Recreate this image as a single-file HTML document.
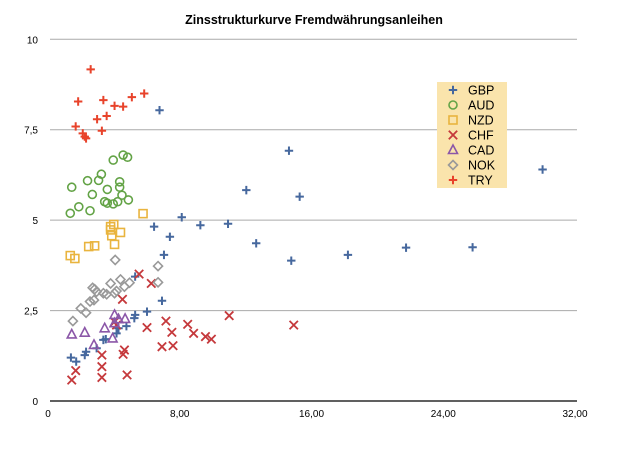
<!DOCTYPE html>
<html><head><meta charset="utf-8"><style>
body{margin:0;background:#fff;}
svg text{font-family:"Liberation Sans",sans-serif;}
</style></head><body>
<svg id="chart" width="619" height="449" xmlns="http://www.w3.org/2000/svg">
<text x="314" y="24" text-anchor="middle" font-size="12.5" font-weight="bold">Zinsstrukturkurve Fremdwährungsanleihen</text>
<g id="grid"></g><g id="marks"></g>
<g id="legend"></g>
</svg>
<script>
const seriesNames=["GBP","AUD","NZD","CHF","CAD","NOK","TRY"];
const seriesColors=["#46689e","#63a346","#e9b43e","#c5393c","#8b57a8","#999999","#e8432b"];
const seriesShapes=["plus","circle","square","x","triangle","diamond","plus"];
const xTicks=[0,8,16,24,32];
const xTickLabels=["0","8,00","16,00","24,00","32,00"];
const yTicks=[0,2.5,5,7.5,10];
const yTickLabels=["0","2,5","5","7,5","10"];
const gbpX=[1.27,1.59,2.11,2.19,2.83,3.24,3.39,4.04,4.16,4.64,5.12,5.17,5.89,5.17,6.32,6.80,6.92,7.28,8.00,9.13,10.81,11.92,12.52,14.51,14.65,15.16,18.09,21.62,25.66,29.91,6.65];
const gbpY=[1.20,1.09,1.27,1.36,1.46,1.69,1.71,1.87,2.01,2.07,2.29,2.38,2.47,3.44,4.82,2.77,4.04,4.54,5.08,4.86,4.90,5.83,4.36,6.92,3.88,5.65,4.04,4.24,4.25,6.40,8.04];
const audX=[1.32,1.23,1.75,2.43,2.28,2.57,2.95,3.12,3.48,3.32,3.48,3.84,3.84,4.11,4.23,4.23,4.37,4.44,4.71,4.76];
const audY=[5.91,5.19,5.37,5.26,6.09,5.71,6.10,6.27,5.85,5.51,5.47,5.45,6.66,5.51,6.06,5.91,5.69,6.80,6.74,5.56];
const nzdX=[1.23,1.51,2.35,2.71,3.68,3.87,3.75,3.92,4.28,5.65,3.68];
const nzdY=[4.02,3.94,4.27,4.29,4.73,4.88,4.57,4.33,4.66,5.18,4.82];
const chfX=[1.32,1.56,3.15,3.15,3.15,4.40,4.44,4.52,4.68,5.41,5.89,6.15,7.04,7.40,6.80,7.47,8.36,8.72,9.44,9.80,10.88,14.80,3.92,4.04];
const chfY=[0.58,0.84,1.27,0.95,0.65,2.81,1.29,1.41,0.72,3.51,2.03,3.25,2.21,1.90,1.50,1.53,2.12,1.87,1.78,1.71,2.36,2.10,2.19,2.10];
const cadX=[1.32,2.11,2.67,3.32,3.80,3.92,4.16,4.56,3.92];
const cadY=[1.84,1.89,1.55,2.01,1.73,2.38,2.26,2.27,2.15];
const nokX=[1.39,1.87,2.19,2.43,2.67,2.71,2.59,2.83,3.24,3.44,3.68,3.92,4.04,4.28,4.52,4.83,3.96,6.56,6.56];
const nokY=[2.21,2.56,2.44,2.75,2.79,3.09,3.13,3.02,2.98,2.95,3.25,2.98,3.04,3.36,3.16,3.27,3.90,3.73,3.28];
const tryX=[2.47,1.71,3.24,3.92,4.44,4.97,5.72,1.56,2.86,3.44,3.15,1.99,2.11,2.19];
const tryY=[9.17,8.28,8.32,8.16,8.14,8.40,8.50,7.59,7.79,7.88,7.47,7.40,7.31,7.26];
const allX=[gbpX,audX,nzdX,chfX,cadX,nokX,tryX];
const allY=[gbpY,audY,nzdY,chfY,cadY,nokY,tryY];

const NS="http://www.w3.org/2000/svg";
const X0=50,X1=577,Y0=401,Y1=39.3;
const sx=v=>X0+(v/32)*(X1-X0);
const sy=v=>Y0-(v/10)*(Y0-Y1);
function mk(tag,attrs,parent){const e=document.createElementNS(NS,tag);for(const k in attrs)e.setAttribute(k,attrs[k]);parent.appendChild(e);return e;}
const grid=document.getElementById('grid');
yTicks.forEach((t,i)=>{
  const l=mk('line',{x1:X0,x2:X1,y1:sy(t),y2:sy(t),stroke:t===0?'#000':'#aaa','stroke-width':t===0?1.2:1},grid);
  
  
  const tx=mk('text',{x:38,y:sy(t)+4,'text-anchor':'end','font-size':10},grid);
  tx.textContent=yTickLabels[i];
  
  
});
xTicks.forEach((t,i)=>{
  const tx=mk('text',{x:sx(t)-2,y:417,'text-anchor':'middle','font-size':10},grid);
  tx.textContent=xTickLabels[i];
  
  
});
function marker(shape,x,y,c,parent){
  let e;const s=4.2;
  if(shape==='plus')e=mk('path',{d:`M${x-s},${y}H${x+s}M${x},${y-s}V${y+s}`,stroke:c,'stroke-width':2,fill:'none'},parent);
  else if(shape==='x')e=mk('path',{d:`M${x-s},${y-s}L${x+s},${y+s}M${x-s},${y+s}L${x+s},${y-s}`,stroke:c,'stroke-width':1.8,fill:'none'},parent);
  else if(shape==='circle')e=mk('circle',{cx:x,cy:y,r:4,stroke:c,'stroke-width':1.6,fill:'none'},parent);
  else if(shape==='square')e=mk('rect',{x:x-4,y:y-4,width:8,height:8,stroke:c,'stroke-width':1.6,fill:'none'},parent);
  else if(shape==='triangle')e=mk('path',{d:`M${x},${y-5}L${x+4.5},${y+3.5}L${x-4.5},${y+3.5}Z`,stroke:c,'stroke-width':1.6,fill:'none'},parent);
  else e=mk('path',{d:`M${x},${y-4.5}L${x+4.5},${y}L${x},${y+4.5}L${x-4.5},${y}Z`,stroke:c,'stroke-width':1.6,fill:'none'},parent);
  return e;
}
const marks=document.getElementById('marks');
allX.forEach((xs,si)=>{
  xs.forEach((xv,j)=>{
    const e=marker(seriesShapes[si],sx(xv),sy(allY[si][j]),seriesColors[si],marks);
    
    
  });
});
const lg=document.getElementById('legend');
const bg=mk('rect',{x:437,y:82,width:70,height:106,fill:'#fae4ac'},lg);


seriesNames.forEach((n,i)=>{
  const y=90+i*15;
  const m=marker(seriesShapes[i],453,y,seriesColors[i],lg);
  
  
  const t=mk('text',{x:468,y:y+4.5,'font-size':12.5},lg);
  t.textContent=n;
  
  
});
</script>
</body></html>
